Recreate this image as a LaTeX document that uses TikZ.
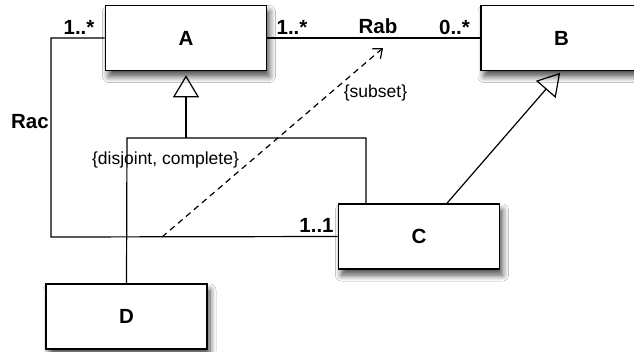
\documentclass[tikz,border=0pt]{standalone}
\usepackage{fontspec}
\setmainfont{Liberation Sans}
\usetikzlibrary{arrows.meta,shadows.blur}
\begin{document}
\begin{tikzpicture}[x=1pt,y=-1pt,
  cls/.style={draw, line width=1.6pt, fill=white, minimum width=161pt, minimum height=65pt,
    inner sep=0pt, font=\fontsize{20.5}{22}\selectfont\bfseries,
    blur shadow={shadow xshift=3pt, shadow yshift=-6pt, shadow blur radius=6pt, shadow blur steps=8, shadow opacity=70}},
  conn/.style={line width=1.2pt},
  lbl/.style={font=\fontsize{20.5}{22}\selectfont\bfseries, inner sep=0pt},
  txt/.style={font=\fontsize{17.5}{20}\selectfont, inner sep=0pt},
  gen/.style={conn, -{Triangle[open, length=22pt, width=26pt, line width=1.2pt]}},
]
\clip (0,0) rectangle (634,351);
\fill[white] (0,0) rectangle (634,351);
\coordinate (rac) at (51,38);
\coordinate (racb) at (51,237);
\coordinate (cj) at (366,138);
\coordinate (dj) at (127,138);
\coordinate (aj) at (186,138);
\coordinate (ds) at (162,237);
\coordinate (de) at (383,48);
\node[cls] (A) at (186,38) {A};
\node[cls] (B) at (561.5,38) {B};
\node[cls] (C) at (419,236.5) {C};
\node[cls] (D) at (126.5,316.5) {D};
\draw[conn] (A.west |- rac) -- (rac) -- (racb) -- (C.west);
\draw[conn] (A.east) -- (B.west);
\draw[conn] (D.north) -- (dj) -- (cj) -- (cj |- C.north);
\draw[gen, shorten >=4pt] (aj) -- (A.south);
\draw[gen, shorten >=2pt] ([xshift=28pt]C.north) -- (B.south);
\draw[conn, dash pattern=on 6pt off 4.5pt, -{Straight Barb[length=8pt, width=13pt, line width=1.2pt]}] (ds) -- (de);
\node[lbl] (l1) at (79,27) {1..*};
\node[lbl] (l2) at (292,27) {1..*};
\node[lbl] (lrab) at (378,26.5) {Rab};
\node[lbl] (l3) at (454.5,27) {0..*};
\node[lbl] (lrac) at (30,122) {Rac};
\node[lbl] (l4) at (316.5,225.5) {1..1};
\node[txt] (ldc) at (165.5,160) {\{disjoint, complete\}};
\node[txt] (lsub) at (375.5,93) {\{subset\}};
\end{tikzpicture}
\end{document}
